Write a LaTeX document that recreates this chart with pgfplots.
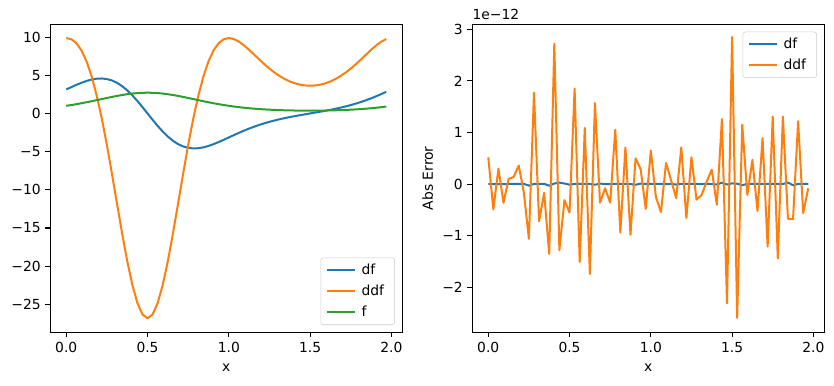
\documentclass[border=0pt]{standalone}
\usepackage{pgfplots}
\pgfplotsset{compat=1.18}
\usepackage{pgfplotstable}
\usepackage{fontspec}
\setmainfont{DejaVu Sans}

\definecolor{tabblue}{HTML}{1F77B4}
\definecolor{taborange}{HTML}{FF7F0E}
\definecolor{tabgreen}{HTML}{2CA02C}

% f = exp(sin(pi x)), its derivatives, and the errors of the computed derivatives (x 1e-12)
\pgfplotstableread{
x f df ddf edf eddf
0 1.000 3.142 9.870 0.000 0.52
0.03125 1.103 3.448 9.714 0.000 -0.49
0.0625 1.215 3.745 9.199 0.002 0.30
0.09375 1.337 4.019 8.252 -0.002 -0.36
0.125 1.466 4.256 6.814 0.003 0.10
0.15625 1.602 4.439 4.845 0.005 0.14
0.1875 1.743 4.553 2.336 0.004 0.36
0.21875 1.886 4.580 -0.686 0.006 -0.16
0.25 2.028 4.505 -4.146 -0.028 -1.06
0.28125 2.166 4.317 -7.923 0.004 1.77
0.3125 2.297 4.009 -11.851 0.006 -0.72
0.34375 2.416 3.577 -15.728 0.005 -0.17
0.375 2.519 3.028 -19.329 -0.030 -1.35
0.40625 2.604 2.374 -22.426 0.012 2.72
0.4375 2.667 1.634 -24.810 0.030 -1.28
0.46875 2.705 0.833 -26.315 0.012 -0.31
0.5 2.718 0.000 -26.828 -0.010 -0.55
0.53125 2.705 -0.833 -26.315 0.004 1.85
0.5625 2.667 -1.634 -24.810 0.006 -1.51
0.59375 2.604 -2.374 -22.426 0.005 1.09
0.625 2.519 -3.028 -19.329 0.004 -1.74
0.65625 2.416 -3.577 -15.728 -0.012 1.57
0.6875 2.297 -4.009 -11.851 0.010 -0.36
0.71875 2.166 -4.317 -7.923 0.002 -0.08
0.75 2.028 -4.505 -4.146 0.002 -0.36
0.78125 1.886 -4.580 -0.686 0.004 1.05
0.8125 1.743 -4.553 2.336 0.003 -0.94
0.84375 1.602 -4.439 4.845 0.005 0.71
0.875 1.466 -4.256 6.814 0.002 -0.98
0.90625 1.337 -4.019 8.252 -0.012 0.50
0.9375 1.215 -3.745 9.199 0.010 0.29
0.96875 1.103 -3.448 9.714 0.004 -0.48
1.0 1.000 -3.142 9.870 0.003 0.65
1.03125 0.907 -2.835 9.739 0.006 -0.25
1.0625 0.823 -2.535 9.395 0.004 -0.54
1.09375 0.748 -2.249 8.904 0.002 0.41
1.125 0.682 -1.980 8.322 0.003 0.07
1.15625 0.624 -1.729 7.695 -0.008 -0.27
1.1875 0.574 -1.499 7.061 0.006 0.71
1.21875 0.530 -1.288 6.447 0.004 -0.66
1.25 0.493 -1.095 5.874 0.003 0.52
1.28125 0.462 -0.920 5.355 0.003 -0.30
1.3125 0.435 -0.760 4.900 0.002 -0.21
1.34375 0.414 -0.613 4.511 0.004 0.05
1.375 0.397 -0.477 4.194 0.002 0.28
1.40625 0.384 -0.350 3.947 -0.006 -0.40
1.4375 0.375 -0.230 3.771 0.028 1.26
1.46875 0.370 -0.114 3.666 -0.008 -2.31
1.5 0.368 0.000 3.631 0.015 2.85
1.53125 0.370 0.114 3.666 0.008 -2.59
1.5625 0.375 0.230 3.771 -0.020 1.15
1.59375 0.384 0.350 3.947 0.004 -0.21
1.625 0.397 0.477 4.194 0.004 0.47
1.65625 0.414 0.613 4.511 0.005 -0.52
1.6875 0.435 0.760 4.900 0.004 0.89
1.71875 0.462 0.920 5.355 0.003 -1.21
1.75 0.493 1.095 5.874 0.004 1.31
1.78125 0.530 1.288 6.447 0.005 -1.44
1.8125 0.574 1.499 7.061 0.003 1.31
1.84375 0.624 1.729 7.695 0.030 -0.67
1.875 0.682 1.980 8.322 -0.020 -0.68
1.90625 0.748 2.249 8.904 0.004 1.22
1.9375 0.823 2.535 9.395 0.005 -0.56
1.96875 0.907 2.835 9.739 0.004 -0.08
}\data

\newcommand{\lblfont}{\fontsize{10.4pt}{12pt}\selectfont}

\pgfplotsset{
  panel/.style={
    scale only axis, width=264pt, height=231.2pt,
    axis line style={line width=0.83pt},
    tick align=outside, tick pos=left,
    major tick length=3.65pt,
    every tick/.style={line width=0.83pt, black},
    ticklabel style={font=\lblfont},
    label style={font=\lblfont},
    xlabel style={yshift=-2pt},
    xmin=-0.0984, xmax=2.0672,
    xtick={0,0.5,1,1.5,2}, xticklabels={0.0,0.5,1.0,1.5,2.0},
    xlabel={x},
    every axis plot/.append style={line width=1.5pt, line join=round, mark=none},
    legend cell align=left,
    legend image code/.code={\draw[##1] (0pt,0pt) -- (21pt,0pt);},
    legend style={font=\lblfont, draw=black!20, rounded corners=2pt,
      fill=white, fill opacity=0.8, text opacity=1,
      inner xsep=4pt, inner ysep=2.5pt, row sep=2.5pt,
      nodes={inner xsep=4pt, inner ysep=2pt}},
  },
}

\begin{document}
\begin{tikzpicture}
\path[use as bounding box] (0,0) rectangle (625.5pt,288.75pt);

\begin{axis}[panel, at={(37.7pt,39.5pt)}, anchor=south west,
    ymin=-28.663, ymax=11.705,
    ytick={-25,-20,-15,-10,-5,0,5,10},
    yticklabels={−25,−20,−15,−10,−5,0,5,10},
    legend style={at={(1,0)}, anchor=south east, xshift=-5.5pt, yshift=5.5pt}]
  \addplot[tabblue] table[x=x, y=df] {\data};
  \addlegendentry{df}
  \addplot[taborange] table[x=x, y=ddf] {\data};
  \addlegendentry{ddf}
  \addplot[tabgreen] table[x=x, y=f] {\data};
  \addlegendentry{f}
\end{axis}

\begin{axis}[panel, name=R, at={(354.2pt,39.5pt)}, anchor=south west,
    ymin=-2.87, ymax=3.10,
    ytick={-2,-1,0,1,2,3},
    yticklabels={−2,−1,0,1,2,3},
    ylabel={Abs Error},
    legend style={at={(1,1)}, anchor=north east, xshift=-5.5pt, yshift=-5.7pt}]
  \addplot[tabblue] table[x=x, y=edf] {\data};
  \addlegendentry{df}
  \addplot[taborange] table[x=x, y=eddf] {\data};
  \addlegendentry{ddf}
\end{axis}
\node[anchor=south west, inner sep=0pt, font=\lblfont] at ([yshift=3pt]R.north west) {1e−12};
\end{tikzpicture}
\end{document}
